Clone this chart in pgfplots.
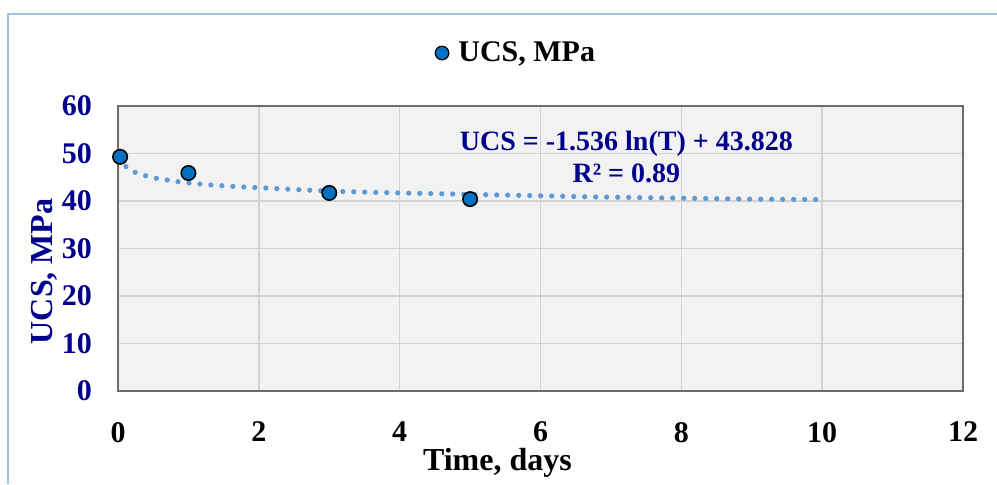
\documentclass[border=0pt]{standalone}
\usepackage{pgfplots}
\pgfplotsset{compat=1.18}
\usepackage{fontspec}
\setmainfont{Liberation Serif}

\definecolor{navyt}{RGB}{0,0,140}
\definecolor{ptblue}{RGB}{0,112,192}
\definecolor{trend}{RGB}{91,155,213}
\definecolor{plotbg}{RGB}{242,242,242}
\definecolor{gridc}{RGB}{210,210,210}
\definecolor{framec}{RGB}{157,195,230}

\begin{document}
\begin{tikzpicture}
\useasboundingbox (0,0) rectangle (498.5pt,242pt);
\draw[framec, line width=0.8pt] (4pt,0) -- (4pt,235pt) -- (498.5pt,235pt);
\begin{axis}[
    at={(59pt,46.5pt)}, anchor=south west,
    width=422.5pt, height=142.5pt,
    scale only axis=true,
    xmin=0, xmax=12, ymin=0, ymax=60,
    xtick={0,2,...,12}, ytick={0,10,...,60},
    grid=major,
    grid style={gridc, line width=0.7pt},
    axis background/.style={fill=plotbg},
    axis line style={draw=gray!85!black, line width=0.7pt},
    tick style={draw=none},
    clip=false,
    /pgf/number format/assume math mode=true,
    xticklabel style={font=\fontsize{15}{18}\selectfont\bfseries, yshift=-12pt},
    yticklabel style={font=\fontsize{15}{18}\selectfont\bfseries, text=navyt, xshift=-9.5pt},
    xlabel={Time, days},
    xlabel style={font=\fontsize{16}{19}\selectfont\bfseries, at={(rel axis cs:0.449,-0.253)}, anchor=center},
    ylabel={UCS, MPa},
    ylabel style={font=\fontsize{16}{19}\selectfont\bfseries, text=navyt, at={(rel axis cs:-0.087,0.42)}, anchor=center},
    legend style={at={(rel axis cs:0.472,1.186)}, anchor=center, draw=none, fill=none,
        font=\fontsize{15}{18}\selectfont\bfseries},
    legend image code/.code={
        \filldraw[fill=ptblue, draw=black, line width=0.6pt] (0.3cm,0pt) circle (3.4pt);
        \path (0.3cm+6pt,0pt);},
]
% logarithmic trendline, points
\addplot[trend, line width=2.6pt, line cap=round, dash pattern=on 0pt off 5.5pt, smooth, forget plot]
    coordinates {
    (0.03,49.2) (0.1,47.4) (0.25,46.0) (0.5,44.9) (0.75,44.3) (1,43.8)
    (1.5,43.2) (2,42.8) (3,42.1) (4,41.7) (5,41.4) (6,41.1)
    (7,40.8) (8,40.6) (9,40.4) (10,40.3)
    };
\addplot[only marks, mark=*, mark size=3.6pt,
    mark options={fill=ptblue, draw=black, line width=0.8pt}]
    coordinates {
    (0.03,49.3) (1,45.9) (3,41.7) (5,40.4)
    };
\addlegendentry{UCS, MPa}
\node[navyt, font=\fontsize{14}{16}\selectfont\bfseries, align=center, anchor=center]
    at (axis cs:7.22,49.3) {UCS = -1.536 ln(T) + 43.828\\R² = 0.89};
\end{axis}
\end{tikzpicture}
\end{document}
